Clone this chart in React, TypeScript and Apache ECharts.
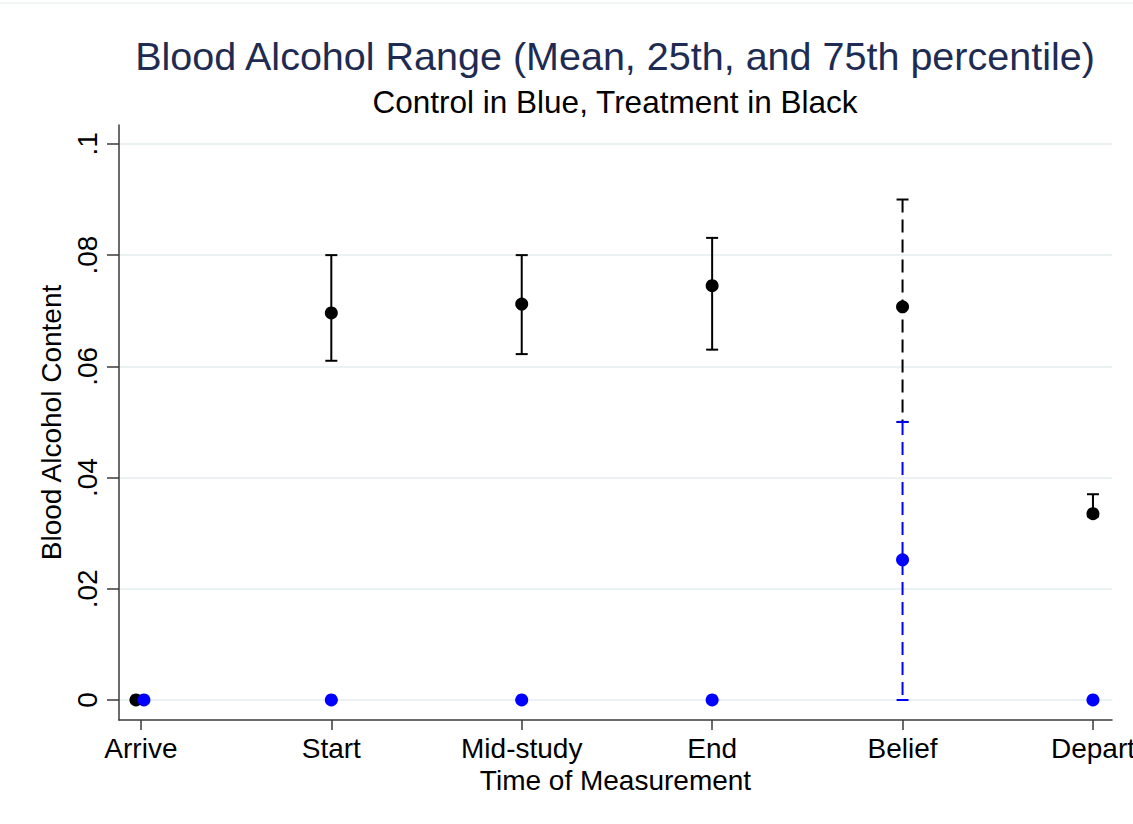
import React, { useEffect, useRef } from "react";
import * as echarts from "echarts";

const categories = ["Arrive", "Start", "Mid-study", "End", "Belief", "Depart"];
const categoryPositions = [1, 2, 3, 4, 5, 6];
const yTicks = [0, 0.02, 0.04, 0.06, 0.08, 0.1];

// Treatment (black): [x, mean, p25, p75]
const treatmentX = [0.974, 2, 3, 4, 5, 6];
const treatmentMean = [0, 0.0696, 0.0712, 0.0745, 0.0707, 0.0335];
const treatmentP25 = [0, 0.061, 0.0622, 0.063, 0.05, 0.033];
const treatmentP75 = [0, 0.08, 0.08, 0.0831, 0.09, 0.037];

// Control (blue)
const controlX = [1.016, 2, 3, 4, 5, 6];
const controlMean = [0, 0, 0, 0, 0.0252, 0];
const controlP25 = [0, 0, 0, 0, 0, 0];
const controlP75 = [0, 0, 0, 0, 0.05, 0];

const dashedIndex = 4; // Belief drawn dashed

const FONT = "'Liberation Sans', Arial, sans-serif";

function makeErrorSeries(xs: number[], lo: number[], hi: number[], color: string) {
  const data = xs.map((x, i) => [x, lo[i], hi[i], i]);
  return {
    type: "custom",
    data,
    encode: { x: 0, y: [1, 2] },
    z: 2,
    renderItem: (params: any, api: any) => {
      const x = api.value(0);
      const l = api.coord([x, api.value(1)]);
      const h = api.coord([x, api.value(2)]);
      const idx = api.value(3);
      const dashed = idx === dashedIndex;
      const cap = 6;
      const style: any = { stroke: color, lineWidth: 2 };
      const lineStyle: any = dashed
        ? { stroke: color, lineWidth: 2, lineDash: [13, 7] }
        : style;
      return {
        type: "group",
        children: [
          { type: "line", shape: { x1: h[0], y1: h[1], x2: l[0], y2: l[1] }, style: lineStyle },
          { type: "line", shape: { x1: h[0] - cap, y1: h[1], x2: h[0] + cap, y2: h[1] }, style },
          { type: "line", shape: { x1: l[0] - cap, y1: l[1], x2: l[0] + cap, y2: l[1] }, style },
        ],
      };
    },
  };
}

export default function App() {
  const ref = useRef<HTMLDivElement>(null);
  useEffect(() => {
    if (!ref.current) return;
    const chart = echarts.init(ref.current, null, { renderer: "svg" });
    const fmtY = (v: number) => {
      if (Math.abs(v) < 1e-9) return "0";
      const s = (Math.round(v * 100) / 100).toString();
      return s.replace(/^0/, "");
    };
    chart.setOption({
      animation: false,
      backgroundColor: "#ffffff",
      textStyle: { fontFamily: FONT },
      title: {
        text: "Blood Alcohol Range (Mean, 25th, and 75th percentile)",
        subtext: "Control in Blue, Treatment in Black",
        left: 610,
        textAlign: "center",
        top: 31,
        itemGap: 10,
        textStyle: { fontFamily: FONT, fontSize: 39.5, fontWeight: "normal", color: "#1e2b52" },
        subtextStyle: { fontFamily: FONT, fontSize: 31.5, color: "#000000" },
      },
      graphic: [
        {
          type: "line",
          shape: { x1: 0, y1: 3, x2: 1133, y2: 3 },
          style: { stroke: "#e6ecee", lineWidth: 1 },
        },
      ],
      grid: { left: 119, right: 21, top: 125, bottom: 104, outerBoundsMode: "none", containLabel: false },
      xAxis: {
        type: "value",
        min: 0.885,
        max: 6.1,
        name: "Time of Measurement",
        nameLocation: "middle",
        nameGap: 42,
        nameTextStyle: { fontFamily: FONT, fontSize: 28, color: "#000" },
        axisLine: { show: true, onZero: false, lineStyle: { color: "#3a3a3a", width: 1.5 } },
        axisTick: { show: true, customValues: categoryPositions, length: 10, lineStyle: { color: "#3a3a3a", width: 1.5 } },
        axisLabel: {
          customValues: categoryPositions,
          formatter: (v: number) => categories[Math.round(v) - 1] ?? "",
          fontFamily: FONT,
          fontSize: 28,
          color: "#000",
          margin: 14,
        },
        splitLine: { show: false },
      },
      yAxis: {
        type: "value",
        min: -0.0036,
        max: 0.1034,
        name: "Blood Alcohol Content",
        nameLocation: "middle",
        nameGap: 47,
        nameTextStyle: { fontFamily: FONT, fontSize: 28, color: "#000" },
        axisLine: { show: true, onZero: false, lineStyle: { color: "#3a3a3a", width: 1.5 } },
        axisTick: { show: true, customValues: yTicks, length: 12, lineStyle: { color: "#3a3a3a", width: 1.5 } },
        axisLabel: {
          customValues: yTicks,
          formatter: fmtY,
          rotate: 90,
          fontFamily: FONT,
          fontSize: 28,
          color: "#000",
          margin: 18,
        },
        splitLine: { show: true, lineStyle: { color: "#eaf2f3", width: 2 } },
      },
      series: [
        makeErrorSeries(treatmentX, treatmentP25, treatmentP75, "#000000"),
        {
          type: "scatter",
          data: treatmentX.map((x, i) => [x, treatmentMean[i]]),
          symbol: "circle",
          symbolSize: 13,
          itemStyle: { color: "#000000", opacity: 1 },
          z: 3,
        },
        makeErrorSeries(controlX, controlP25, controlP75, "#0000ff"),
        {
          type: "scatter",
          data: controlX.map((x, i) => [x, controlMean[i]]),
          symbol: "circle",
          symbolSize: 13,
          itemStyle: { color: "#0000ff", opacity: 1 },
          z: 5,
        },
      ],
    });
    return () => chart.dispose();
  }, []);
  return (
    <div
      ref={ref}
      style={{ position: "fixed", left: 0, top: 0, width: 1133, height: 824 }}
    />
  );
}
